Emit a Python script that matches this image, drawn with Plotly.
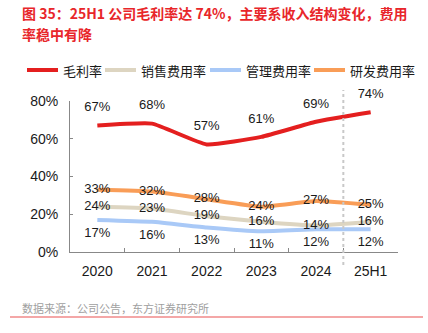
import plotly.graph_objects as go

categories = ["2020", "2021", "2022", "2023", "2024", "25H1"]
gross_margin = [67, 68, 57, 61, 69, 74]
selling_exp = [24, 23, 19, 16, 14, 16]
admin_exp = [17, 16, 13, 11, 12, 12]
rd_exp = [33, 32, 28, 24, 27, 25]

series_names = ["毛利率", "销售费用率", "管理费用率", "研发费用率"]
series_values = [gross_margin, selling_exp, admin_exp, rd_exp]
series_colors = ["#E41F1F", "#DDD5C1", "#A9C9F7", "#F99D57"]
label_pos = ["top center", "middle center", "bottom center", "middle center"]
label_pad = [16, 6, 10, 6]

FONT = "Liberation Sans, Arial, Noto Sans CJK SC, sans-serif"
CJK = "Noto Sans CJK SC, Liberation Sans, sans-serif"

W, H = 428, 333
L, R, T, B = 70, 30, 101, 81
pw, ph = W - L - R, H - T - B


def px(x):
    return (x - L) / pw


def py(y):
    return (H - B - y) / ph


fig = go.Figure()
for idx in [2, 1, 3, 0]:
    vals = series_values[idx]
    fig.add_trace(go.Scatter(
        x=categories, y=vals, name=series_names[idx], mode="lines+markers+text",
        line=dict(color=series_colors[idx], width=4, shape="spline", smoothing=0.4),
        marker=dict(size=label_pad[idx], color="rgba(0,0,0,0)"),
        text=[f"{v}%" for v in vals], textposition=label_pos[idx],
        textfont=dict(family=FONT, size=13, color="#1a1a1a"),
        cliponaxis=False, showlegend=False,
    ))

fig.update_layout(
    width=W, height=H,
    margin=dict(l=L, r=R, t=T, b=B),
    paper_bgcolor="white", plot_bgcolor="white",
    showlegend=False,
    xaxis=dict(type="category", range=[-0.5, 5.5], showline=True, linecolor="#888888",
               linewidth=1, ticks="inside", tickson="boundaries", ticklen=4,
               tickcolor="#888888", showgrid=False, zeroline=False, ticklabelstandoff=6,
               tickfont=dict(family=FONT, size=14, color="#1a1a1a")),
    yaxis=dict(range=[0, 80], dtick=20, ticksuffix="%", showline=True, linecolor="#888888",
               linewidth=1, ticks="inside", ticklen=3, tickcolor="#888888",
               showgrid=False, zeroline=False, ticklabelstandoff=8,
               tickfont=dict(family=FONT, size=14, color="#1a1a1a")),
)

# legend drawn by hand so it fits on one row like the reference
legend_starts = [27, 105, 210, 314]
for name, color, x0 in zip(series_names, series_colors, legend_starts):
    fig.add_shape(type="line", xref="paper", yref="paper", x0=px(x0), x1=px(x0 + 31),
                  y0=py(70), y1=py(70), line=dict(color=color, width=4))
    fig.add_annotation(text=name, xref="paper", yref="paper", x=px(x0 + 34), y=py(70),
                       xanchor="left", yanchor="middle", showarrow=False,
                       font=dict(family=CJK, size=13, color="#1a1a1a"))

# separator between annual and half-year data
fig.add_shape(type="line", xref="x", yref="paper", x0=4.5, x1=4.5, y0=py(265), y1=py(90),
              line=dict(color="#C8C8C8", width=2, dash="dot"))

title1 = "图 35：25H1 公司毛利率达 74%，主要系收入结构变化，费用"
title2 = "率稳中有降"
for txt, yy in [(title1, 13), (title2, 34)]:
    fig.add_annotation(text=f"<b>{txt}</b>", xref="paper", yref="paper", x=px(20), y=py(yy),
                       xanchor="left", yanchor="middle", showarrow=False,
                       font=dict(family=CJK, size=14, color="#E8262A"))

fig.add_annotation(text="数据来源：公司公告，东方证券研究所", xref="paper", yref="paper",
                   x=px(20), y=py(308), xanchor="left", yanchor="middle", showarrow=False,
                   font=dict(family=CJK, size=11, color="#A0A0A0"))
fig.add_shape(type="line", xref="paper", yref="paper", x0=px(10), x1=px(423), y0=py(317), y1=py(317),
              line=dict(color="#F08A8A", width=1.5))

fig.write_html("out.html")
